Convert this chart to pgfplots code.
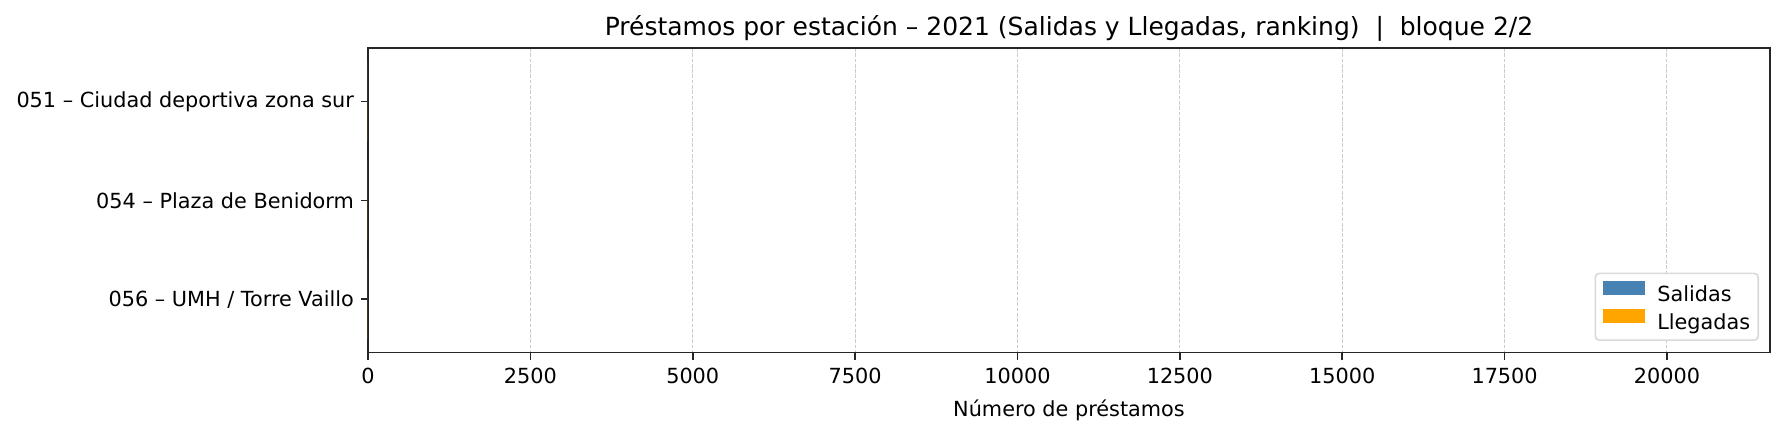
\documentclass[border=0pt]{standalone}
\usepackage{fontspec}
\setmainfont{DejaVu Sans}
\usepackage{pgfplots}
\pgfplotsset{compat=1.18}
\definecolor{salidas}{RGB}{70,130,180}
\definecolor{llegadas}{RGB}{255,165,0}
\definecolor{spine}{RGB}{38,38,38}
\begin{document}
\begin{tikzpicture}
\begin{axis}[
  scale only axis,
  width=701pt, height=152.35pt,
  xbar, bar width=0.4,
  y dir=reverse,
  xmin=0, xmax=21586,
  ymin=-0.54, ymax=2.54,
  ytick={0,1,2},
  yticklabels={051 – Ciudad deportiva zona sur, 054 – Plaza de Benidorm, 056 – UMH / Torre Vaillo},
  xtick={0,2500,5000,7500,10000,12500,15000,17500,20000},
  /pgf/number format/assume math mode=true,
  /pgf/number format/set thousands separator={},
  /pgf/number format/fixed,
  scaled x ticks=false,
  tick label style={font=\fontsize{10.4}{12}\selectfont},
  xticklabel style={yshift=-0.5pt},
  xtick pos=bottom, ytick pos=left,
  tick align=outside,
  major tick length=3.5pt,
  tick style={spine, line width=0.8pt},
  axis line style={spine, line width=0.8pt},
  xmajorgrids, ymajorgrids=false,
  major grid style={gray!40, line width=0.5pt, dash pattern=on 1.85pt off 0.8pt},
  xlabel={Número de préstamos},
  xlabel style={font=\fontsize{10.4}{12}\selectfont, at={(axis description cs:0.5,0)}, anchor=base, yshift=-31.85pt},
  title={Préstamos por estación – 2021 (Salidas y Llegadas, ranking) \ | \ bloque 2/2},
  title style={font=\fontsize{12.5}{14}\selectfont, at={(axis description cs:0.5,1)}, anchor=base, yshift=0pt},
  legend cell align=left,
  legend style={at={(axis description cs:0.99215,0.0384)}, anchor=south east,
    draw=gray!30, line width=0.8pt, rounded corners=2pt, font=\fontsize{10.4}{12}\selectfont,
    inner xsep=4pt, inner ysep=4pt, row sep=2pt, column sep=6pt,
    nodes={inner sep=0pt, sharp corners}},
  legend image code/.code={\fill[#1, sharp corners] (0pt,0pt) rectangle (21pt,7pt);},
]
\addplot[fill=salidas, draw=none, bar shift=-0.2] coordinates {(0,0) (0,1) (0,2)};
\addlegendentry{Salidas}
\addplot[fill=llegadas, draw=none, bar shift=0.2] coordinates {(0,0) (0,1) (0,2)};
\addlegendentry{Llegadas}
\end{axis}
\pgfresetboundingbox
\path ([shift={(-184pt,-39.65pt)}]current axis.south west) rectangle ([shift={(7pt,24pt)}]current axis.north east);
\end{tikzpicture}
\end{document}
